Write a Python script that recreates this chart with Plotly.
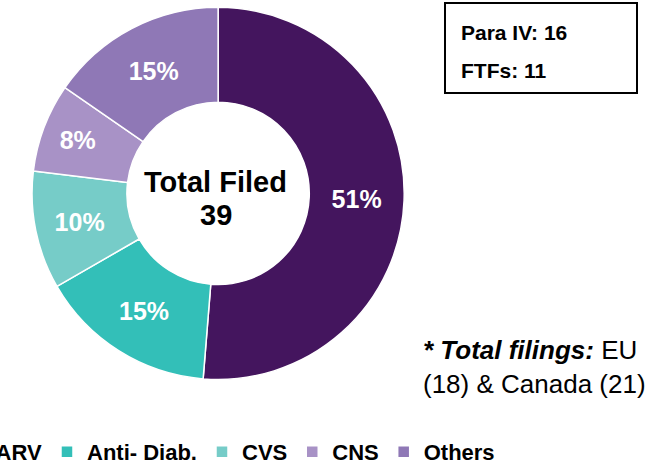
import plotly.graph_objects as go

categories = ["ARV", "Anti- Diab.", "CVS", "CNS", "Others"]
filings = [20, 6, 4, 3, 6]
colors = ["#44155E", "#33BFB8", "#76CCC8", "#A892C6", "#8F78B6"]

total_filed = 39
para_iv = 16
ftfs = 11

FONT = "Arial, Liberation Sans, sans-serif"
W, H = 667, 466


def px(x, y):
    # pixel (from top-left) -> paper coords
    return x / W, 1 - y / H


fig = go.Figure()
fig.add_trace(go.Pie(
    labels=categories,
    values=filings,
    hole=0.49,
    sort=False,
    direction="clockwise",
    rotation=0,
    marker=dict(colors=colors, line=dict(color="white", width=1.5)),
    texttemplate="<b>%{percent:.0%}</b>",
    textposition="inside",
    insidetextorientation="horizontal",
    textfont=dict(family=FONT, size=25, color="white"),
    domain=dict(x=[0.048, 0.606], y=[0.185, 0.985]),
))

fig.update_layout(
    width=W,
    height=H,
    margin=dict(l=0, r=0, t=0, b=0, autoexpand=False),
    paper_bgcolor="white",
    plot_bgcolor="white",
    showlegend=True,
    legend=dict(
        orientation="h",
        x=0.342,
        xanchor="center",
        y=px(0, 452)[1],
        yanchor="middle",
        font=dict(family=FONT, size=22, color="black", weight="bold"),
        itemwidth=30,
    ),
)

# centre label
for txt, yy in [("Total Filed", 182), (str(total_filed), 215)]:
    cx, cy = px(215.5, yy)
    fig.add_annotation(
        x=cx, y=cy, xref="paper", yref="paper",
        text=f"<b>{txt}</b>", showarrow=False,
        xanchor="center", yanchor="middle",
        font=dict(family=FONT, size=29, color="black"),
    )

# box top right
fig.add_shape(
    type="rect", xref="paper", yref="paper",
    x0=445 / W, x1=637 / W, y0=1 - 93 / H, y1=1 - 3 / H,
    line=dict(color="black", width=2),
)
for txt, yy in [(f"Para IV: {para_iv}", 32), (f"FTFs: {ftfs}", 70)]:
    bx, by = px(459, yy)
    fig.add_annotation(
        x=bx, y=by, xref="paper", yref="paper",
        text=f"<b>{txt}</b>", showarrow=False,
        xanchor="left", yanchor="middle",
        font=dict(family=FONT, size=21, color="black"),
    )

# footnote
fx, fy = px(421, 367)
fig.add_annotation(
    x=fx, y=fy, xref="paper", yref="paper",
    text="<b><i>* Total filings:</i></b> EU<br>(18) & Canada (21)",
    showarrow=False, align="left",
    xanchor="left", yanchor="middle",
    font=dict(family=FONT, size=26, color="black"),
)

fig.write_html(
    "out.html",
    config={"displayModeBar": False},
    post_script="document.body.style.margin='0';",
)
